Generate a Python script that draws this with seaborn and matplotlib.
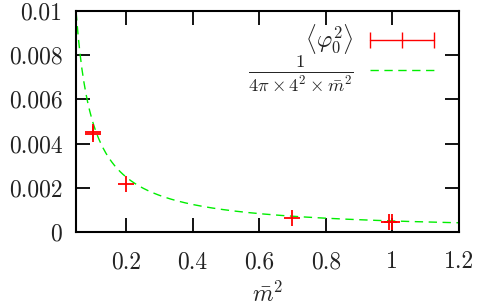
import numpy as np
import matplotlib
matplotlib.use("Agg")
import matplotlib.pyplot as plt
import matplotlib.ticker as mticker
from matplotlib.lines import Line2D
import seaborn as sns

# measured points <phi_0^2> vs m^2
m2 = [0.1, 0.1, 0.2, 0.7, 0.99, 1.0]
phi2 = [0.00452, 0.00444, 0.00218, 0.00064, 0.00046, 0.00044]

# reference curve 1/(4 pi x 4^2 x m^2), constant
curve_c = 1.0 / (4 * np.pi * 4**2 * 10)
curve_x = np.linspace(0.05, 1.2, 400)

xticks = [0.2, 0.4, 0.6, 0.8, 1.0, 1.2]
yticks = [0, 0.002, 0.004, 0.006, 0.008, 0.01]

sns.set_style("ticks")
plt.rcParams["font.family"] = "serif"
plt.rcParams["font.serif"] = ["cmr10", "DejaVu Serif"]
plt.rcParams["mathtext.fontset"] = "cm"
plt.rcParams["axes.formatter.use_mathtext"] = True

fig = plt.figure(figsize=(4.85, 3.08), dpi=100)
ax = fig.add_axes([0.157, 0.247, 0.789, 0.717])

sns.lineplot(x=curve_x, y=curve_c / curve_x, color="#00ee00", lw=1.0,
             dashes=False, ax=ax)
ax.lines[-1].set_dashes((6, 4))
sns.lineplot(x=m2, y=phi2, estimator=None, sort=False, color="red",
             linestyle="", marker="+", markersize=11, markeredgewidth=1.3,
             markeredgecolor="red", ax=ax)

ax.set_xlim(0.05, 1.2)
ax.set_ylim(0, 0.01)
ax.set_xticks(xticks)
ax.set_yticks(yticks)
fmt = mticker.FuncFormatter(lambda v, p: "%g" % v)
ax.xaxis.set_major_formatter(fmt)
ax.yaxis.set_major_formatter(fmt)
ax.tick_params(direction="in", length=10, width=1.3, top=True, right=True,
               labelsize=17, color="black", labelcolor="#222222")
ax.tick_params(axis="y", pad=10)
ax.tick_params(axis="x", pad=14)
for s in ax.spines.values():
    s.set_linewidth(1.5)
    s.set_color("black")
ax.set_xlabel(r"$\bar{m}^2$", fontsize=17, labelpad=6)
ax.set_ylabel("")

handles = [
    Line2D([], [], color="red", lw=1.0, marker="|", markersize=11,
           markeredgewidth=1.0),
    Line2D([], [], color="#00ee00", lw=1.0, dashes=(6, 4)),
]
labels = [r"$\langle\varphi_0^2\rangle$",
          r"$\frac{1}{4\pi\times4^2\times\bar{m}^2}$"]
leg = ax.legend(handles, labels, loc="upper right", frameon=False,
                bbox_to_anchor=(0.985, 1.0),
                numpoints=3, markerfirst=False, handlelength=3.3,
                fontsize=17, labelspacing=-0.1, borderaxespad=0.1,
                handletextpad=0.4)
leg.get_texts()[1].set_fontsize(19)

fig.savefig("out.png", dpi=100)
